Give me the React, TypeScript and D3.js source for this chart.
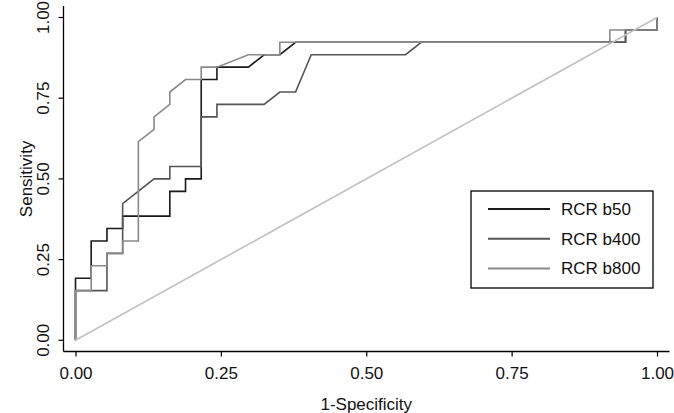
import * as d3 from 'd3';
import React, { useEffect, useRef } from 'react';

const W = 674;
const H = 413;
const FONT = '"Liberation Sans", Arial, sans-serif';
const FS = 17;

// ROC vertices (1-specificity, sensitivity)
const b50FPR = [0, 0, 0.027, 0.027, 0.0541, 0.0541, 0.0811, 0.0811, 0.1622, 0.1622, 0.1892, 0.1892, 0.2162, 0.2162, 0.2432, 0.2432, 0.2973, 0.3243, 0.3514, 0.3784, 0.9459, 0.9459, 1, 1];
const b50TPR = [0, 0.1923, 0.1923, 0.3077, 0.3077, 0.3462, 0.3462, 0.3846, 0.3846, 0.4615, 0.4615, 0.5, 0.5, 0.8077, 0.8077, 0.8462, 0.8462, 0.8846, 0.8846, 0.9231, 0.9231, 0.9615, 0.9615, 1];

const b400FPR = [0, 0, 0.0541, 0.0541, 0.0811, 0.0811, 0.1351, 0.1622, 0.1622, 0.2162, 0.2162, 0.2432, 0.2432, 0.3243, 0.3514, 0.3784, 0.4054, 0.5676, 0.5946, 0.9459, 0.9459, 1, 1];
const b400TPR = [0, 0.1538, 0.1538, 0.2692, 0.2692, 0.4231, 0.5, 0.5, 0.5385, 0.5385, 0.6923, 0.6923, 0.7308, 0.7308, 0.7692, 0.7692, 0.8846, 0.8846, 0.9231, 0.9231, 0.9615, 0.9615, 1];

const b800FPR = [0, 0, 0.027, 0.027, 0.0541, 0.0541, 0.0811, 0.0811, 0.1081, 0.1081, 0.1351, 0.1351, 0.1622, 0.1622, 0.1892, 0.2162, 0.2162, 0.2432, 0.2973, 0.3514, 0.3514, 0.9189, 0.9189, 1, 1];
const b800TPR = [0, 0.1538, 0.1538, 0.2308, 0.2308, 0.2692, 0.2692, 0.3077, 0.3077, 0.6154, 0.6538, 0.6923, 0.7308, 0.7692, 0.8077, 0.8077, 0.8462, 0.8462, 0.8846, 0.8846, 0.9231, 0.9231, 0.9615, 0.9615, 1];

const refLine = [0, 1];

const seriesNames = ['RCR b50', 'RCR b400', 'RCR b800'];
const seriesColors = ['#1a1a1a', '#555555', '#8a8a8a'];
const xTicks = [0, 0.25, 0.5, 0.75, 1];
const yTicks = [0, 0.25, 0.5, 0.75, 1];

const x = d3.scaleLinear().domain([0, 1]).range([75.5, 657]);
const y = d3.scaleLinear().domain([0, 1]).range([340.3, 17.5]);

function App() {
  const ref = useRef<SVGSVGElement>(null);

  useEffect(() => {
    const svg = d3.select(ref.current);
    svg.selectAll('*').remove();
    const fmt = d3.format('.2f');

    // axes
    const xAxis = svg.append('g')
      .attr('transform', 'translate(0, 351.5)')
      .call(d3.axisBottom(x).tickValues(xTicks).tickFormat(fmt).tickSize(5).tickPadding(10));
    xAxis.select('.domain').remove();
    xAxis.append('line')
      .attr('x1', 63.5).attr('x2', 669.5)
      .attr('stroke', '#000').attr('stroke-width', 1.3);
    xAxis.selectAll('.tick line').attr('stroke-width', 1.2);
    xAxis.selectAll('text')
      .attr('font-size', FS).attr('font-family', FONT).attr('fill', '#111');

    const yAxis = svg.append('g').attr('transform', 'translate(63.5, 0)');
    yAxis.append('line')
      .attr('y1', 6).attr('y2', 351.5)
      .attr('stroke', '#000').attr('stroke-width', 1.3);
    yAxis.selectAll('line.tick')
      .data(yTicks)
      .enter()
      .append('line')
      .attr('class', 'tick')
      .attr('x1', -5).attr('x2', 0)
      .attr('y1', d => y(d)).attr('y2', d => y(d))
      .attr('stroke', '#000').attr('stroke-width', 1.2);
    yAxis.selectAll('text.tick')
      .data(yTicks)
      .enter()
      .append('text')
      .attr('class', 'tick')
      .attr('transform', d => `translate(-14.5, ${y(d)}) rotate(-90)`)
      .attr('text-anchor', 'middle')
      .attr('font-size', FS).attr('font-family', FONT).attr('fill', '#111')
      .text(d => fmt(d));

    svg.append('text')
      .attr('x', (x(0) + x(1)) / 2).attr('y', 409.5)
      .attr('text-anchor', 'middle')
      .attr('font-size', FS).attr('font-family', FONT).attr('fill', '#111')
      .text('1-Specificity');
    svg.append('text')
      .attr('transform', `translate(32, ${(y(0) + y(1)) / 2}) rotate(-90)`)
      .attr('text-anchor', 'middle')
      .attr('font-size', FS).attr('font-family', FONT).attr('fill', '#111')
      .text('Sensitivity');

    // curves
    const line = d3.line<[number, number]>().x(d => x(d[0])).y(d => y(d[1]));
    const curves: [number, number][][] = [
      b50FPR.map((v, i) => [v, b50TPR[i]]),
      b400FPR.map((v, i) => [v, b400TPR[i]]),
      b800FPR.map((v, i) => [v, b800TPR[i]]),
    ];
    svg.selectAll('path.roc')
      .data(curves)
      .enter()
      .append('path')
      .attr('class', 'roc')
      .attr('d', d => line(d))
      .attr('fill', 'none')
      .attr('stroke', (d, i) => seriesColors[i])
      .attr('stroke-width', 1.6)
      .attr('stroke-linejoin', 'miter');

    svg.append('path')
      .attr('d', line(refLine.map(v => [v, v] as [number, number])))
      .attr('fill', 'none')
      .attr('stroke', '#c2c2c2')
      .attr('stroke-width', 1.6);

    // legend
    const lg = svg.append('g');
    lg.append('rect')
      .attr('x', 471).attr('y', 191)
      .attr('width', 182).attr('height', 97)
      .attr('fill', '#fff').attr('stroke', '#000').attr('stroke-width', 1.3);
    const rows = lg.selectAll('g.row')
      .data(seriesNames)
      .enter()
      .append('g')
      .attr('class', 'row')
      .attr('transform', (d, i) => `translate(0, ${209 + i * 29.7})`);
    rows.append('line')
      .attr('x1', 488).attr('x2', 550)
      .attr('stroke', (d, i) => seriesColors[i])
      .attr('stroke-width', 2);
    rows.append('text')
      .attr('x', 561).attr('y', 6)
      .attr('font-size', FS).attr('font-family', FONT).attr('fill', '#111')
      .text(d => d);
  }, []);

  return (
    <svg ref={ref} width={W} height={H}
      style={{ position: 'absolute', left: 0, top: 0, background: '#fff' }} />
  );
}

export default App;
